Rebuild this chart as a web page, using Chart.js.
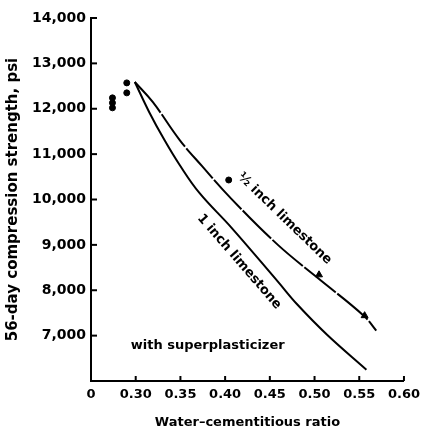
<!DOCTYPE html>
<html>
<head>
<meta charset="utf-8">
<script src="https://cdn.jsdelivr.net/npm/chart.js@4.4.1/dist/chart.umd.min.js"></script>
<style>
  html, body { margin: 0; padding: 0; background: #fff; }
  #wrap { width: 426px; height: 434px; }
</style>
</head>
<body>
<div id="wrap"><canvas id="myChart" width="426" height="434"></canvas></div>
<script>
// tick labels
var xTicks = [0.25, 0.30, 0.35, 0.40, 0.45, 0.50, 0.55, 0.60];
var yTicks = [7000, 8000, 9000, 10000, 11000, 12000, 13000, 14000];

// 1/2 inch limestone curve (upper)
var halfX = [0.299, 0.319, 0.349, 0.374, 0.407, 0.459, 0.503, 0.555, 0.569];
var halfY = [12590, 12150, 11315, 10740, 10015, 9000, 8280, 7440, 7110];

// 1 inch limestone curve (lower)
var oneX = [0.299, 0.315, 0.332, 0.349, 0.371, 0.407, 0.459, 0.481, 0.514, 0.558];
var oneY = [12590, 11930, 11315, 10765, 10150, 9380, 8190, 7680, 7020, 6250];

// measured points
var dotX = [0.274, 0.274, 0.274, 0.290, 0.290, 0.404];
var dotY = [12240, 12130, 12020, 12570, 12350, 10430];
var triX = [0.505, 0.556];
var triY = [8340, 7440];

function pts(xs, ys) {
  return xs.map((x, i) => ({ x: x, y: ys[i] }));
}

var fnt = "'DejaVu Sans', Verdana, sans-serif";

var decor = {
  id: 'decor',
  afterDraw(chart) {
    var ctx = chart.ctx;
    var xs = chart.scales.x, ys = chart.scales.y;
    ctx.save();
    ctx.strokeStyle = '#000';
    ctx.lineWidth = 2;
    // inside ticks
    yTicks.forEach(v => {
      var py = ys.getPixelForValue(v);
      ctx.beginPath();
      ctx.moveTo(xs.left, py);
      ctx.lineTo(xs.left + 6, py);
      ctx.stroke();
    });
    xTicks.slice(1).forEach(v => {
      var px = xs.getPixelForValue(v);
      ctx.beginPath();
      ctx.moveTo(px, ys.bottom);
      ctx.lineTo(px, ys.bottom - 5);
      ctx.stroke();
    });
    ctx.fillStyle = '#000';
    ctx.textAlign = 'center';
    ctx.textBaseline = 'middle';
    ctx.font = 'bold 13px ' + fnt;
    var labels = [
      { t: '½ inch limestone', x: 0.4665, y: 9576, a: 44 },
      { t: '1 inch limestone', x: 0.4158, y: 8629, a: 49 }
    ];
    labels.forEach(l => {
      ctx.save();
      ctx.translate(xs.getPixelForValue(l.x), ys.getPixelForValue(l.y));
      ctx.rotate(l.a * Math.PI / 180);
      ctx.fillText(l.t, 0, 0);
      ctx.restore();
    });
    ctx.fillText('with superplasticizer', xs.getPixelForValue(0.3805), ys.getPixelForValue(6780));
    ctx.restore();
  }
};

new Chart('myChart', {
  type: 'scatter',
  data: {
    datasets: [{
      type: 'line',
      data: pts(halfX, halfY),
      borderColor: '#000',
      borderWidth: 2,
      borderDash: [40, 2],
      pointRadius: 0,
      tension: 0.4,
      fill: false
    }, {
      type: 'line',
      data: pts(oneX, oneY),
      borderColor: '#000',
      borderWidth: 2,
      pointRadius: 0,
      tension: 0.4,
      fill: false
    }, {
      data: pts(dotX, dotY),
      backgroundColor: '#000',
      borderColor: '#000',
      pointRadius: 3
    }, {
      data: pts(triX, triY),
      pointStyle: 'triangle',
      backgroundColor: '#000',
      borderColor: '#000',
      pointRadius: 4
    }]
  },
  options: {
    responsive: false,
    animation: false,
    layout: { padding: { left: 0, right: 18, top: 18, bottom: 0 } },
    plugins: {
      legend: { display: false },
      tooltip: { enabled: false }
    },
    scales: {
      x: {
        type: 'linear',
        min: 0.25,
        max: 0.60,
        afterFit: (s) => { s.height = 53; },
        afterBuildTicks: (s) => { s.ticks = xTicks.map(v => ({ value: v })); },
        border: { color: '#000', width: 2 },
        grid: { display: false, drawTicks: false },
        ticks: {
          color: '#000',
          padding: 6,
          font: { family: fnt, size: 13, weight: 'bold' },
          callback: (v) => v < 0.27 ? '0' : v.toFixed(2)
        },
        title: {
          display: true,
          text: 'Water–cementitious ratio',
          color: '#000',
          padding: { top: 10 },
          font: { family: fnt, size: 13, weight: 'bold' }
        }
      },
      y: {
        min: 6000,
        max: 14000,
        afterFit: (s) => { s.width = 91; },
        afterBuildTicks: (s) => { s.ticks = yTicks.map(v => ({ value: v })); },
        border: { color: '#000', width: 2 },
        grid: { display: false, drawTicks: false },
        ticks: {
          color: '#000',
          padding: 5,
          font: { family: fnt, size: 14, weight: 'bold' },
          callback: (v) => v.toLocaleString('en-US')
        },
        title: {
          display: true,
          text: '56-day compression strength, psi',
          color: '#000',
          padding: { bottom: 1 },
          font: { family: fnt, size: 15, weight: 'bold' }
        }
      }
    }
  },
  plugins: [decor]
});
</script>
</body>
</html>
